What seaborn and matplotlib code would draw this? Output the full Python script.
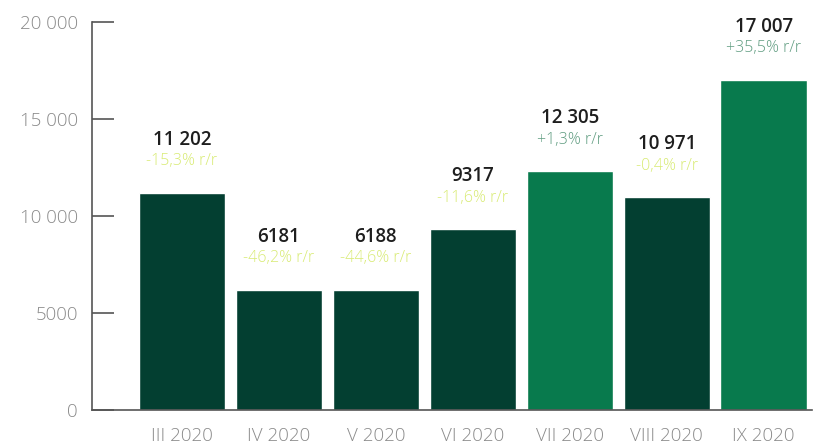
import matplotlib
matplotlib.use("Agg")
import matplotlib.pyplot as plt
import seaborn as sns
import pandas as pd

months = ["III 2020", "IV 2020", "V 2020", "VI 2020", "VII 2020", "VIII 2020", "IX 2020"]
values = [11202, 6181, 6188, 9317, 12305, 10971, 17007]
value_labels = ["11 202", "6181", "6188", "9317", "12 305", "10 971", "17 007"]
yoy_labels = ["-15,3% r/r", "-46,2% r/r", "-44,6% r/r", "-11,6% r/r", "+1,3% r/r", "-0,4% r/r", "+35,5% r/r"]
yoy_positive = [False, False, False, False, True, False, True]
yticks = [0, 5000, 10000, 15000, 20000]
ytick_labels = ["0", "5000", "10 000", "15 000", "20 000"]

DARK = "#033f31"
BRIGHT = "#087a4d"
NEG_TXT = "#d8eb73"
POS_TXT = "#5f9c80"

sns.set_theme(style="white")
plt.rcParams["font.family"] = ["Open Sans", "DejaVu Sans"]

df = pd.DataFrame({"month": months, "value": values})
palette = {m: (BRIGHT if p else DARK) for m, p in zip(months, yoy_positive)}

fig = plt.figure(figsize=(8.27, 4.45), dpi=100)
ax = fig.add_axes([0.111, 0.0787, 0.871, 0.872])
sns.barplot(data=df, x="month", y="value", hue="month", palette=palette,
            width=0.89, legend=False, ax=ax, saturation=1)

ax.set_ylim(0, 20000)
ax.set_xlim(-0.93, 6.5)
ax.set_yticks(yticks)
ax.set_yticklabels(ytick_labels)
ax.set_xlabel("")
ax.set_ylabel("")

for s in ["top", "right"]:
    ax.spines[s].set_visible(False)
for s in ["left", "bottom"]:
    ax.spines[s].set_color("#555555")
    ax.spines[s].set_linewidth(1.2)

ax.tick_params(axis="y", left=True, direction="in", length=16, width=1.2, color="#555555",
               labelsize=13.5, labelcolor="#8a8a8a", pad=10)
ax.tick_params(axis="x", bottom=False, length=0, labelsize=13.5, labelcolor="#8a8a8a", pad=12)
for lab in ax.get_xticklabels() + ax.get_yticklabels():
    lab.set_fontweight("light")

for i, (v, vl, yl, pos) in enumerate(zip(values, value_labels, yoy_labels, yoy_positive)):
    ax.annotate(vl, (i, v), xytext=(0, 31), textcoords="offset points", ha="center",
                va="bottom", fontsize=13.5, fontweight="semibold", color="#1e1e1e",
                annotation_clip=False)
    ax.annotate(yl, (i, v), xytext=(0, 17), textcoords="offset points", ha="center",
                va="bottom", fontsize=11.5, fontweight="light",
                color=POS_TXT if pos else NEG_TXT, annotation_clip=False)

fig.savefig("out.png", dpi=100)
